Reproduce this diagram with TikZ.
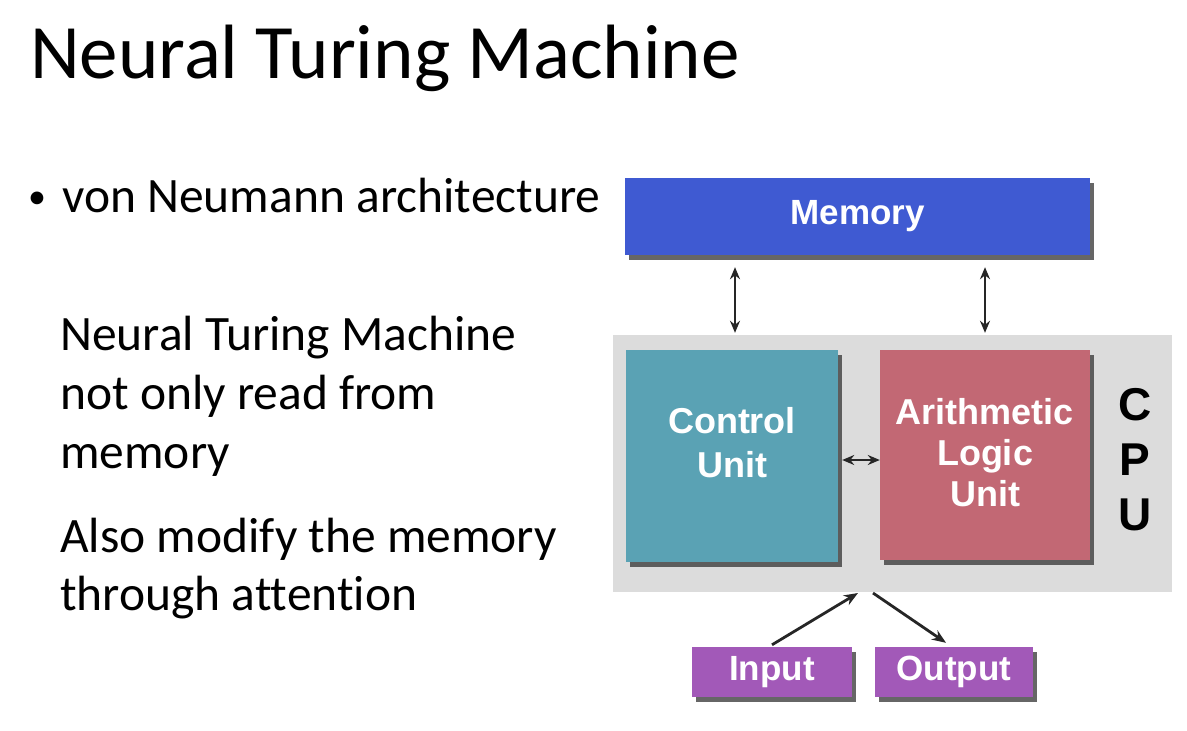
\documentclass[tikz,border=0pt]{standalone}
\usepackage{fontspec}
\setmainfont[Ligatures=NoCommon]{Carlito}
\newfontfamily\arialfont{Liberation Sans}
\usetikzlibrary{shadows,arrows.meta}
\definecolor{memblue}{HTML}{3F5AD2}
\definecolor{cuteal}{HTML}{5AA2B4}
\definecolor{alurose}{HTML}{C26874}
\definecolor{iopurple}{HTML}{A259B8}
\definecolor{cpugray}{HTML}{DCDCDC}
\tikzset{
  unitbox/.style={rectangle, inner sep=0pt, text=white, align=center,
    font=\arialfont\bfseries\fontsize{35}{42}\selectfont,
    drop shadow={shadow xshift=4pt, shadow yshift=-5pt, fill=black!80, opacity=0.75}},
  boxlabel/.style={inner sep=0pt, text=white, align=center,
    font=\arialfont\bfseries\fontsize{36}{44}\selectfont},
  slidetext/.style={anchor=base west, inner sep=0pt, font=\fontsize{49.5}{59}\selectfont},
  dbl/.style={{Stealth[length=12pt,width=10pt]}-{Stealth[length=12pt,width=10pt]}, line width=2.8pt, black!85},
  sgl/.style={-{Stealth[length=14pt,width=11pt]}, line width=2.8pt, black!85}
}
\begin{document}
\begin{tikzpicture}[x=1pt,y=-1pt]
\useasboundingbox[fill=white] (0,0) rectangle (1187,731);
% title and text
\node[anchor=base west, inner sep=0pt, font=\fontsize{77}{92}\selectfont] (title) at (30,78) {Neural Turing Machine};
\node[anchor=center, inner sep=0pt, font=\fontsize{36}{40}\selectfont] (bullet) at (37,200) {\textbullet};
\node[slidetext] (b1) at (62,212) {von Neumann architecture};
\node[slidetext] (l1) at (60,350) {Neural Turing Machine};
\node[slidetext] (l2) at (60,409) {not only read from};
\node[slidetext] (l3) at (60,468) {memory};
\node[slidetext] (l4) at (60,552) {Also modify the memory};
\node[slidetext] (l5) at (60,610) {through attention};
% diagram
\node[rectangle, fill=cpugray, minimum width=559pt, minimum height=257pt, inner sep=0pt] (cpu) at (892.5,463.5) {};
\node[unitbox, fill=memblue, minimum width=465pt, minimum height=77pt] (mem) at (857.5,216.5) {};
\node[boxlabel, font=\arialfont\bfseries\fontsize{35}{42}\selectfont] (memtxt) at (mem.center) {Memory};
\node[unitbox, fill=cuteal, minimum width=212pt, minimum height=212pt] (cu) at (732,456) {};
\node[boxlabel] (cutxt) at (732,443) {Control\\Unit};
\node[unitbox, fill=alurose, minimum width=210pt, minimum height=210pt] (alu) at (985,455) {};
\node[boxlabel, font=\arialfont\bfseries\fontsize{36}{41}\selectfont] (alutxt) at (985,453) {Arithmetic\\Logic\\Unit};
\node[inner sep=0pt, align=center, font=\arialfont\bfseries\fontsize{46}{55}\selectfont] (cpulbl) at (1135,460) {C\\P\\U};
\node[unitbox, fill=iopurple, minimum width=160pt, minimum height=50pt] (in) at (772,672) {Input};
\node[unitbox, fill=iopurple, minimum width=158pt, minimum height=50pt] (out) at (954,672) {Output};
% connectors
\draw[dbl] ([yshift=-12pt]mem.south -| 735,0) -- ([yshift=2pt]cpu.north -| 735,0);
\draw[dbl] ([yshift=-12pt]mem.south -| 985,0) -- ([yshift=2pt]cpu.north -| 985,0);
\draw[dbl] ([xshift=4pt]cu.east |- 0,460) -- (alu.west |- 0,460);
\coordinate (cpuin) at (858,593);
\coordinate (cpuout) at (873,593);
\draw[sgl] ([yshift=2pt]in.north) -- (cpuin);
\draw[sgl] (cpuout) -- ([yshift=4pt]out.north -| 946,0);
\end{tikzpicture}
\end{document}
